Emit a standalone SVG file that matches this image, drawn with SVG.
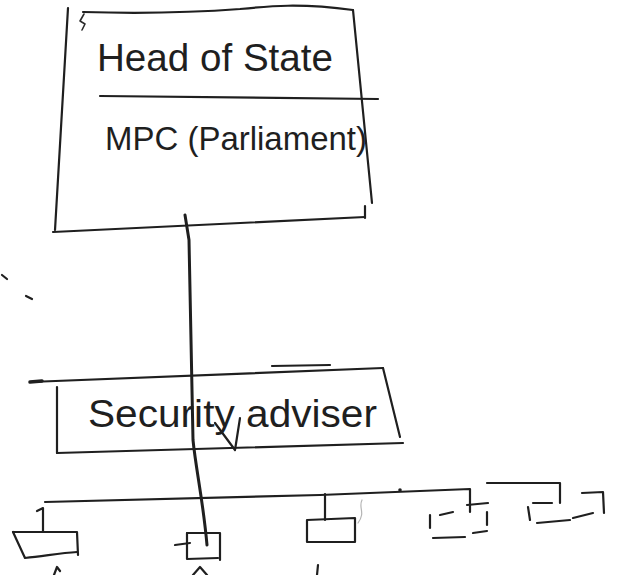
<svg xmlns="http://www.w3.org/2000/svg" width="619" height="575" viewBox="0 0 619 575">
  <style>
    .pen { fill: none; stroke: #1f1f1f; stroke-width: 2.2; stroke-linecap: round; stroke-linejoin: round; }
    .thin { fill: none; stroke: #2a2a2a; stroke-width: 1.6; stroke-linecap: round; stroke-linejoin: round; }
    .faint { fill: none; stroke: #b5b5b5; stroke-width: 1.2; stroke-linecap: round; }
    .label { font-family: "Liberation Sans", "DejaVu Sans", sans-serif; fill: #1f1f1f; }
  </style>
  <rect width="619" height="575" fill="#ffffff"/>

  <g id="connectors">
    <path class="pen" d="M185,215 L189,240 L193,440 C196,470 203,500 207,545" style="stroke-width:3"/>
    <path class="pen" d="M45,502 L320,495 L470,489 L470,512"/>
    <circle cx="400" cy="490" r="1.8" fill="#1f1f1f"/>
    <path class="pen" d="M43,532 L43,508 L37,511"/>
    <path class="pen" d="M325,494 L325,520"/>
    <path class="pen" d="M487,483 L560,483 L560,503"/>
  </g>

  <g id="head-of-state">
    <path class="pen" d="M68,8 L55,230"/>
    <path class="pen" d="M83,12 C150,14 200,12 240,9 C270,6 300,3 353,10"/>
    <path class="pen" d="M353,10 L372,203"/>
    <path class="pen" d="M365,206 L365,218"/>
    <path class="pen" d="M53,232 L365,217"/>
    <path class="thin" d="M84,14 L80,21 L85,24 L82,30"/>
    <path class="pen" d="M100,96 L378,99"/>
    <text class="label" x="97" y="71" font-size="38" textLength="236" lengthAdjust="spacingAndGlyphs">Head of State</text>
    <text class="label" x="105" y="150" font-size="34" textLength="262" lengthAdjust="spacingAndGlyphs">MPC (Parliament)</text>
  </g>

  <g id="security-adviser">
    <path class="pen" d="M30,382 L383,368"/>
    <path class="pen" d="M30,382 L42,381" style="stroke-width:3.5"/>
    <path class="pen" d="M272,366 L330,365"/>
    <path class="pen" d="M57,387 L57,453"/>
    <path class="pen" d="M57,453 L403,443"/>
    <path class="pen" d="M383,368 L400,437"/>
    <path class="pen" d="M215,423 L235,450 L240,418"/>
    <text class="label" x="88" y="427" font-size="38" textLength="289" lengthAdjust="spacingAndGlyphs">Security adviser</text>
  </g>

  <g id="unit-1">
    <path class="pen" d="M13,532 L77,532 L78,555"/>
    <path class="pen" d="M13,532 L25,558 C45,556 60,553 77,552"/>
  </g>

  <g id="unit-2">
    <path class="pen" d="M187,533 L220,533 L220,560"/>
    <path class="pen" d="M187,533 L187,559 L218,558"/>
    <path class="pen" d="M175,545 L190,543"/>
  </g>

  <g id="unit-3">
    <path class="pen" d="M307,520 L355,518 L355,542 L307,542 Z"/>
    <path class="faint" d="M362,500 C358,508 366,512 358,523"/>
  </g>

  <g id="unit-4">
    <path class="pen" d="M430,515 L430,528"/>
    <path class="pen" d="M440,515 L453,512"/>
    <path class="pen" d="M467,505 L488,503"/>
    <path class="pen" d="M487,512 L487,525"/>
    <path class="pen" d="M433,538 L465,537"/>
    <path class="pen" d="M473,533 L487,531"/>
  </g>

  <g id="unit-5">
    <path class="pen" d="M528,507 L530,520"/>
    <path class="pen" d="M533,503 L552,503"/>
    <path class="pen" d="M582,493 L603,492 L604,513"/>
    <path class="pen" d="M537,523 L570,520"/>
    <path class="pen" d="M573,518 L593,513"/>
  </g>

  <g id="marks">
    <path class="pen" d="M54,575 L57,567 L60,571"/>
    <path class="pen" d="M193,575 L200,567 L207,575"/>
    <path class="pen" d="M317,575 L318,565"/>
    <path class="pen" d="M2,275 L7,279"/>
    <path class="pen" d="M26,296 L32,299"/>
  </g>
</svg>
